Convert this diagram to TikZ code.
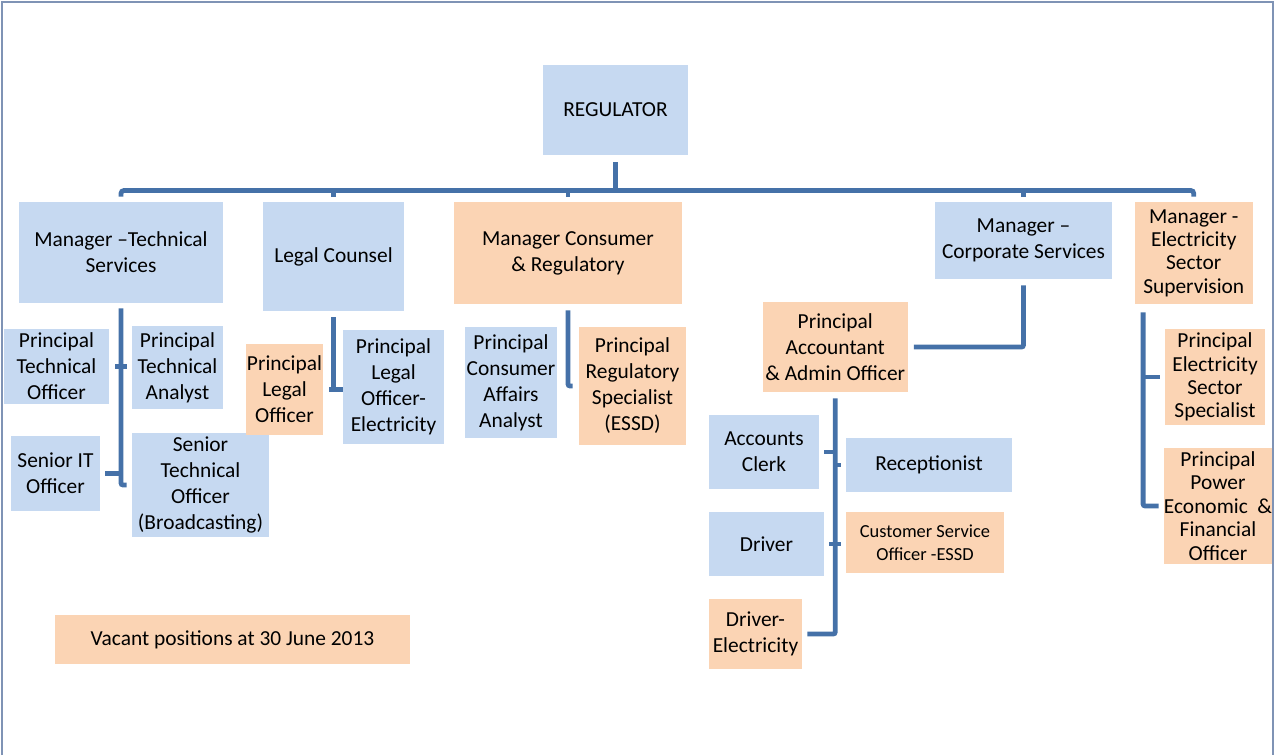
\documentclass[tikz,border=0pt]{standalone}
\usepackage{fontspec}
\setmainfont{Carlito}
\usepackage{tikz}
\usetikzlibrary{positioning, calc}

\definecolor{postblue}{HTML}{C6D9F1}
\definecolor{vacant}{HTML}{FBD4B4}
\definecolor{linkblue}{HTML}{4571A8}
\definecolor{framegray}{HTML}{7F93B5}

\begin{document}
\begin{tikzpicture}[
    x=0.5pt, y=-0.5pt,
    post/.style={fill=#1, inner sep=0pt, align=center, font=\fontsize{10.7}{13}\selectfont},
    post/.default=postblue,
    dims/.style 2 args={minimum width=#1pt, minimum height=#2pt},
    tight/.style={font=\fontsize{10.7}{11.7}\selectfont},
    small/.style={font=\fontsize{9.2}{11.5}\selectfont},
    link/.style={draw=linkblue, line width=2.4pt},
  ]

  \useasboundingbox (0,0) rectangle (1274,755);
  \draw[framegray, line width=1pt] (1.5,755) -- (1.5,1.5) -- (1272.5,1.5) -- (1272.5,755);

  % Top level
  \node[post, dims={72.5}{45}] (reg) at (615.5,110) {REGULATOR};

  % Managers
  \node[post, dims={102}{50.5}] (mts) at (121,252.5) {Manager –Technical\\Services};
  \node[post, dims={70.5}{54.5}] (lc) at (333.5,256.5) {Legal Counsel};
  \node[post=vacant, dims={114}{51}] (mcr) at (568,253) {Manager Consumer\\\& Regulatory};
  \node[post, dims={88.5}{38.5}] (mcs) at (1023.5,240.5) {Manager –\\Corporate Services};
  \node[post=vacant, tight, dims={59.25}{51}] (mes) at (1193.75,253) {Manager -\\Electricity\\Sector\\Supervision};

  % Technical services
  \node[post, dims={52.5}{37.5}] (pto) at (56.5,366.5) {Principal\\Technical\\Officer};
  \node[post, dims={45.5}{41.5}] (pta) at (177.5,367.5) {Principal\\Technical\\Analyst};
  \node[post, dims={44.5}{37.5}] (sit) at (55.5,473.5) {Senior IT\\Officer};
  \node[post, dims={68.5}{52}] (sto) at (200.5,485) {Senior\\Technical\\Officer\\(Broadcasting)};

  % Legal
  \node[post=vacant, dims={38.5}{45.5}] (plo) at (284.5,389.5) {Principal\\Legal\\Officer};
  \node[post, dims={50.5}{57}] (ploe) at (393.5,387) {Principal\\Legal\\Officer-\\Electricity};

  % Consumer and regulatory
  \node[post, dims={46}{55.5}] (pcaa) at (511,382.5) {Principal\\Consumer\\Affairs\\Analyst};
  \node[post=vacant, dims={53.5}{59}] (prs) at (632.5,386) {Principal\\Regulatory\\Specialist\\(ESSD)};

  % Corporate services
  \node[post=vacant, dims={72.25}{45}] (pa) at (835.25,347) {Principal\\Accountant\\\& Admin Officer};
  \node[post, dims={55}{37}] (ac) at (764,452) {Accounts\\Clerk};
  \node[post, dims={83}{27}] (rec) at (929,465) {Receptionist};
  \node[post, dims={57.5}{32}] (drv) at (766.5,544) {Driver};
  \node[post=vacant, small, dims={79}{30.5}] (cso) at (925,542.5) {Customer Service\\Officer -ESSD};
  \node[post=vacant, dims={46.5}{35}] (de) at (755.5,634) {Driver-\\Electricity};

  % Electricity sector
  \node[post=vacant, tight, dims={50}{48}] (pess) at (1215,377) {Principal\\Electricity\\Sector\\Specialist};
  \node[post=vacant, tight, dims={53}{58}] (ppefo) at (1218,506) {Principal\\Power\\Economic \ \&\\Financial\\Officer};

  % Legend
  \node[post=vacant, dims={177.5}{24.5}] (vac) at (232.5,639.5) {Vacant positions at 30 June 2013};

  % Bus from the regulator
  \coordinate (bus) at (0,190.5);
  \draw[link, rounded corners=1.5pt] ($(mts.north)+(0,-5)$) -- (mts.north |- bus) -- (mes.north |- bus) -- ($(mes.north)+(0,-5)$);
  \draw[link] ($(reg.south)+(0,7)$) -- (reg.south |- bus);
  \foreach \n in {lc, mcr, mcs}
    \draw[link] (\n.north |- bus) -- ($(\n.north)+(0,-5)$);

  % Technical services links
  \draw[link, rounded corners=1pt] ($(mts.south)+(0,5)$) -- (mts.south |- sto.west) -- ($(sto.west)+(-5,0)$);
  \draw[link] ($(pto.east)+(6,0)$) -- ($(pta.west |- pto.east)+(-5,0)$);
  \draw[link] ($(sit.east)+(5,0)$) -- (sit.east -| mts.south);

  % Legal links
  \draw[link] ($(lc.south)+(0,6)$) -- (lc.south |- plo.east);
  \draw[link] ($(plo.east)+(6,0)$) -- (ploe.west |- plo.east);

  % Consumer links
  \draw[link, rounded corners=1pt] ($(mcr.south)+(0,6)$) -- (mcr.south |- prs.west) -- ($(prs.west)+(-6,0)$);

  % Corporate links
  \draw[link, rounded corners=1pt] ($(mcs.south)+(0,6)$) |- ($(pa.east)+(6,0)$);
  \draw[link, rounded corners=1pt] ($(pa.south)+(0,6)$) |- ($(de.east)+(5,0)$);
  \draw[link] ($(ac.east)+(5,0)$) -- (ac.east -| pa.south);
  \draw[link] (rec.west -| pa.south) -- ($(rec.west)+(-5,0)$);
  \draw[link] ($(drv.east)+(5,0)$) -- ($(cso.west |- drv.east)+(-5,0)$);

  % Electricity links
  \coordinate (elec) at ($(mes.south west)+(9,0)$);
  \draw[link, rounded corners=1pt] ($(elec)+(0,8)$) |- ($(ppefo.west)+(-5,0)$);
  \draw[link] (elec |- pess.west) -- ($(pess.west)+(-5,0)$);

\end{tikzpicture}
\end{document}
